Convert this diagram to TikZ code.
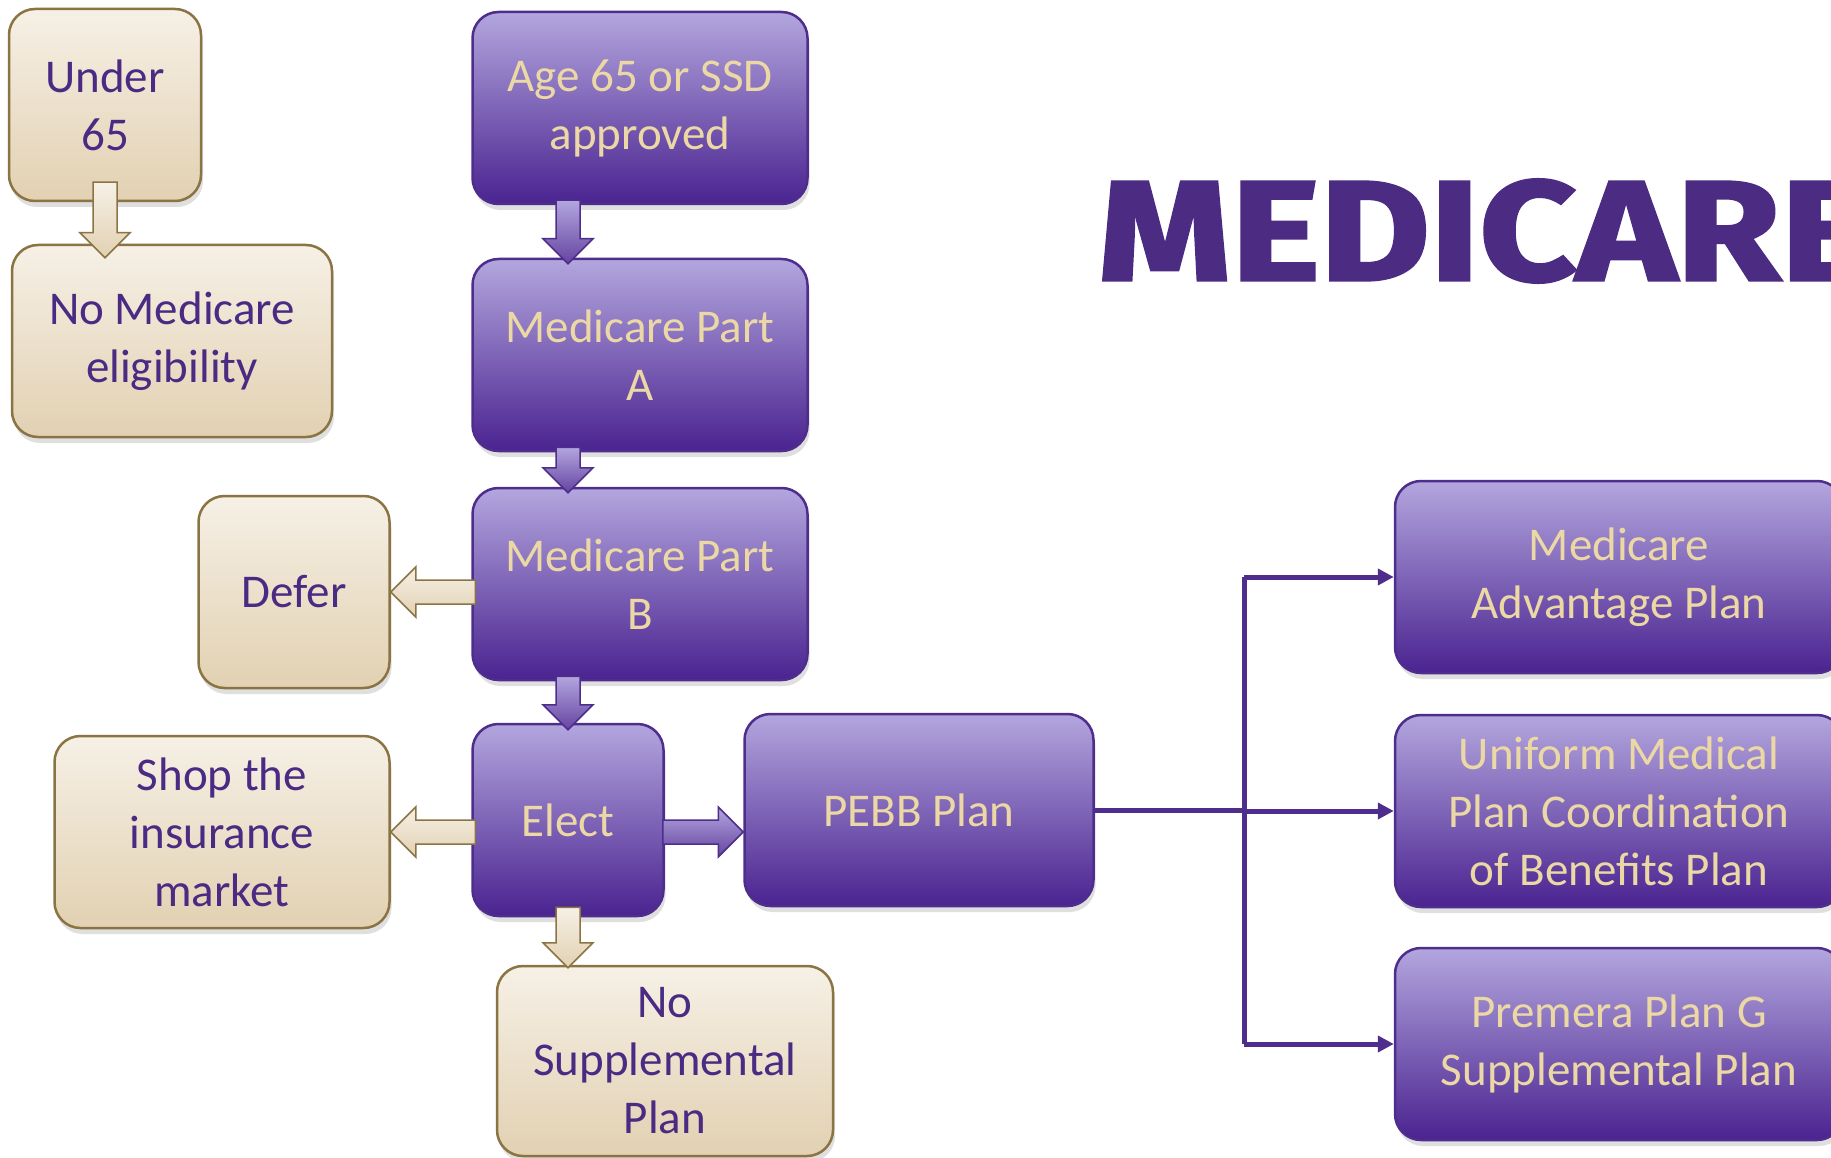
\documentclass[tikz,border=0pt]{standalone}
\usepackage{fontspec}
\setmainfont{Carlito}
\newfontfamily\logofont[FakeBold=2]{Fira Sans}
\usetikzlibrary{calc,shadows,arrows.meta}

\definecolor{lavtop}{HTML}{B3A6DE}
\definecolor{lavbot}{HTML}{4A2390}
\definecolor{lavline}{HTML}{4E2D8C}
\definecolor{goldtxt}{HTML}{EBD8A5}
\definecolor{sandtop}{HTML}{F6F0E6}
\definecolor{sandbot}{HTML}{E2D1B2}
\definecolor{sandline}{HTML}{8B7443}
\definecolor{inktxt}{HTML}{4A2A82}
\definecolor{logoink}{HTML}{4B2C82}

\tikzset{
  box/.style={rounded corners=26pt,line width=2.5pt,align=center,inner sep=0pt,
    minimum height=192pt,font=\fontsize{47}{58}\selectfont,
    drop shadow={shadow xshift=2pt,shadow yshift=-6pt,opacity=0.25}},
  plum/.style={box,draw=lavline,top color=lavtop,bottom color=lavbot,text=goldtxt},
  sand/.style={box,draw=sandline,top color=sandtop,bottom color=sandbot,text=inktxt},
  plumarrow/.style={draw=lavline,line width=1.5pt,top color=lavtop,bottom color=lavbot!85},
  sandarrow/.style={draw=sandline,line width=1.5pt,top color=sandtop,bottom color=sandbot},
  link/.style={draw=lavline,line width=5pt},
}

% block arrow from #2 to #3 (named coordinates)
\newcommand\blockarrow[3][plumarrow]{%
  \coordinate (neck) at ($(#3)!25pt!(#2)$);
  \draw[#1] ($(#2)!12pt!90:(#3)$) -- ($(neck)!12pt!90:(#3)$) -- ($(neck)!25pt!90:(#3)$)
    -- (#3) -- ($(neck)!25pt!-90:(#3)$) -- ($(neck)!12pt!-90:(#3)$)
    -- ($(#2)!12pt!-90:(#3)$) -- cycle;}

\begin{document}
\begin{tikzpicture}[x=1pt,y=-1pt]

  \useasboundingbox (0,0) rectangle (1831,1158);
  \fill[white] (0,0) rectangle (1831,1158);

  % Boxes
  \node[sand,minimum width=192pt] (under) at (105,105) {Under\\65};
  \node[sand,minimum width=320pt] (nomed) at (172,341) {No Medicare\\eligibility};
  \node[plum,minimum width=335pt] (age) at (640,108) {Age 65 or SSD\\approved};
  \node[plum,minimum width=335pt] (parta) at (640,355) {Medicare Part\\A};
  \node[plum,minimum width=335pt] (partb) at (640,584) {Medicare Part\\B};
  \node[sand,minimum width=191pt] (defer) at (294,592) {Defer};
  \node[plum,minimum width=191pt] (elect) at (568,820) {Elect};
  \node[sand,minimum width=335pt] (shop) at (222,832) {Shop the\\insurance\\market};
  \node[plum,minimum width=349pt] (pebb) at (919,810) {PEBB Plan};
  \node[sand,minimum width=336pt,minimum height=190pt] (nosupp) at (665,1061) {No\\Supplemental\\Plan};

  % Plans
  \node[plum,minimum width=448pt] (adv) at (1619,577) {Medicare\\Advantage Plan};
  \node[plum,minimum width=448pt] (ump) at (1619,811) {Uniform Medical\\Plan Coordination\\of Benefits Plan};
  \node[plum,minimum width=448pt] (prem) at (1619,1044) {Premera Plan G\\Supplemental Plan};

  \node[anchor=west,inner sep=0pt,text=logoink] (logo) at (1098,231)
    {\scalebox{1.19}[1]{\logofont\bfseries\fontsize{142}{142}\selectfont MEDICARE}};

  % Block arrows
  \coordinate (u0) at ($(under.south)+(0,-20)$);
  \coordinate (u1) at ($(nomed.north -| under.south)+(0,14)$);
  \coordinate (a0) at ($(age.south -| elect.north)+(0,-5)$);
  \coordinate (a1) at ($(parta.north -| elect.north)+(0,6)$);
  \coordinate (b0) at ($(parta.south -| elect.north)+(0,-5)$);
  \coordinate (b1) at ($(partb.north -| elect.north)+(0,6)$);
  \coordinate (c0) at ($(partb.south -| elect.north)+(0,-5)$);
  \coordinate (c1) at ($(elect.north)+(0,7)$);
  \coordinate (d0) at ($(partb.west |- defer.east)+(4,0)$);
  \coordinate (d1) at (defer.east);
  \coordinate (e0) at ($(elect.west |- shop.east)+(4,0)$);
  \coordinate (e1) at (shop.east);
  \coordinate (p0) at ($(elect.east |- shop.east)+(-2,0)$);
  \coordinate (p1) at (pebb.west |- shop.east);
  \coordinate (n0) at ($(elect.south)+(0,-10)$);
  \coordinate (n1) at ($(nosupp.north -| elect.south)+(0,3)$);

  \blockarrow[sandarrow]{u0}{u1}
  \blockarrow{a0}{a1}
  \blockarrow{b0}{b1}
  \blockarrow{c0}{c1}
  \blockarrow[sandarrow]{d0}{d1}
  \blockarrow[sandarrow]{e0}{e1}
  \blockarrow{p0}{p1}
  \blockarrow[sandarrow]{n0}{n1}

  % Fork to the plans
  \coordinate (fork) at (1244,814);
  \draw[link] (pebb.east) -- (pebb.east -| fork);
  \draw[link] (fork |- adv.west) -- (fork |- prem.west);
  \foreach \n in {adv,ump,prem}
    \draw[link,-{Triangle[length=16pt,width=16pt]}] (fork |- \n.west) -- (\n.west);

\end{tikzpicture}
\end{document}
